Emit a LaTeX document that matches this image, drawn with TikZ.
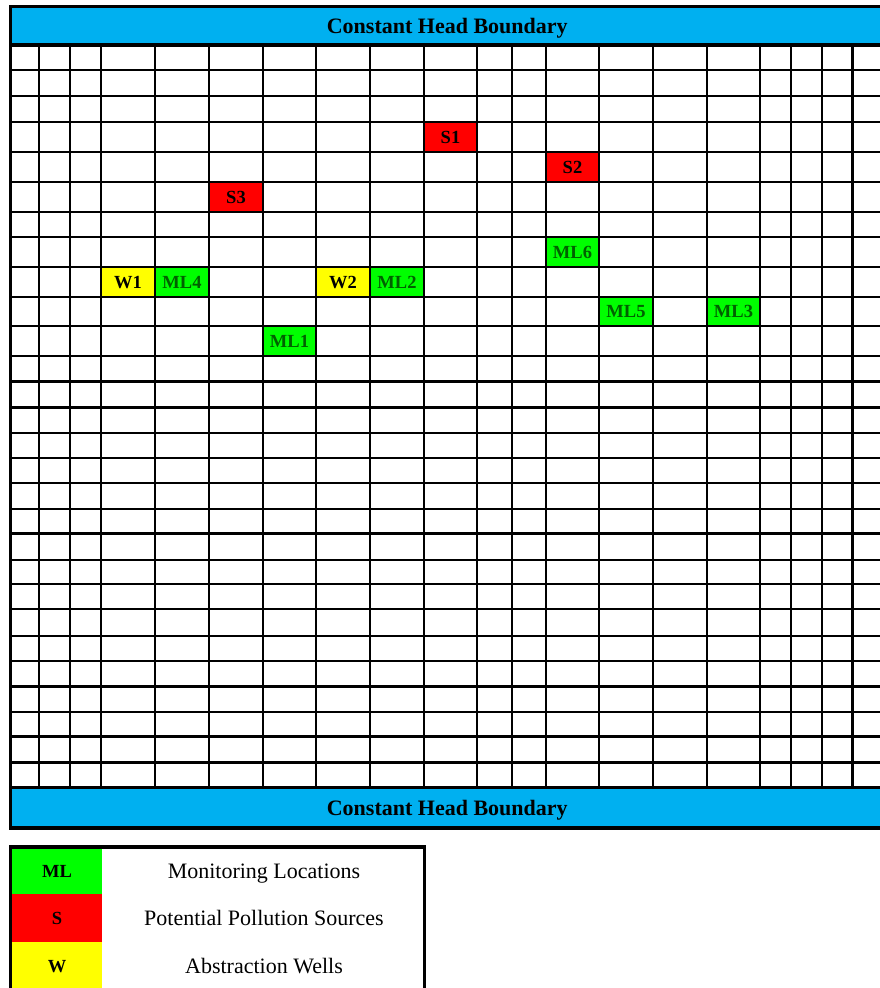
\documentclass[tikz,border=0pt]{standalone}
\usepackage{fontspec}
\setmainfont{Liberation Serif}
\usepackage{xcolor}
\usepackage{tikz}
\definecolor{headBlue}{HTML}{00B0F0}
\definecolor{monGreen}{HTML}{00FF00}
\definecolor{monGreenText}{HTML}{006100}
\definecolor{srcRed}{HTML}{FF0000}
\definecolor{wellYellow}{HTML}{FFFF00}
\tikzset{
  bandbox/.style={rectangle, fill=headBlue, inner sep=0pt, minimum width=873.5pt, minimum height=38.5pt, font=\fontsize{22}{26}\selectfont\bfseries, text height=14.6pt, text depth=0pt},
  cellbox/.style 2 args={rectangle, fill=#1, text=#2, inner sep=0pt, minimum width=54pt, minimum height=30pt, font=\fontsize{18.5}{22}\selectfont\bfseries, text height=12.2pt, text depth=0pt},
  mlcell/.style={cellbox={monGreen}{monGreenText}},
  srccell/.style={cellbox={srcRed}{black}},
  wellcell/.style={cellbox={wellYellow}{black}},
  keybox/.style={rectangle, fill=#1, inner sep=0pt, minimum width=90pt, minimum height=48pt, font=\fontsize{18.5}{22}\selectfont\bfseries, text height=12.2pt, text depth=0pt},
  keytext/.style={inner sep=0pt, font=\fontsize{22}{26}\selectfont, text height=14.6pt, text depth=0pt},
  gridline/.style={line width=2.2pt, draw=black},
  frameline/.style={line width=3.4pt, draw=black},
}

\begin{document}
\begin{tikzpicture}[x=1pt,y=-1pt]
  \useasboundingbox (0,0) rectangle (880,988);

  % Boundaries
  \node[bandbox] (topband) at (447.25,25.75) {Constant Head Boundary};
  \node[bandbox] (botband) at (447.25,807.75) {Constant Head Boundary};

  % Sources, wells and monitoring cells
  \node[srccell] (s1) at (450.5,137) {S1};
  \node[srccell] (s2) at (572.5,167) {S2};
  \node[srccell] (s3) at (236,197) {S3};
  \node[mlcell] (ml6) at (572.5,252) {ML6};
  \node[wellcell] (w1) at (128,282) {W1};
  \node[mlcell] (ml4) at (182,282) {ML4};
  \node[wellcell] (w2) at (343,282) {W2};
  \node[mlcell] (ml2) at (397,282) {ML2};
  \node[mlcell] (ml5) at (626,311.5) {ML5};
  \node[mlcell] (ml3) at (733.5,311.5) {ML3};
  \node[mlcell] (ml1) at (289.5,341) {ML1};

  % Model grid
  \foreach \x in {39,70,101,155,209,263,316,370,424,477,512,546,599,653,707,760,791,822,852.5}
    \draw[gridline] (\x,45) -- (\x,787.5);
  \foreach \y in {70,96,122,152,182,212,237,267,297,326,356,381.5,407.5,433,458,483,509,533.5,560,584,609,636,661,686.5,712,736.5,762.5}
    \draw[gridline] (10.5,\y) -- (884,\y);
  \draw[frameline] (10.5,6.5) rectangle (884,828);
  \draw[frameline] (10.5,45) -- (884,45);
  \draw[frameline] (10.5,787.5) -- (884,787.5);

  % Legend
  \node[keybox=monGreen] (keyml) at (57,871.5) {ML};
  \node[keybox=srcRed] (keys) at (57,918) {S};
  \node[keybox=wellYellow] (keyw) at (57,966) {W};
  \node[keytext] (keymltxt) at (264,871.5) {Monitoring Locations};
  \node[keytext] (keystxt) at (264,918.5) {Potential Pollution Sources};
  \node[keytext] (keywtxt) at (264,966) {Abstraction Wells};
  \draw[frameline] (10.6,847) rectangle (424.2,992);
\end{tikzpicture}
\end{document}
